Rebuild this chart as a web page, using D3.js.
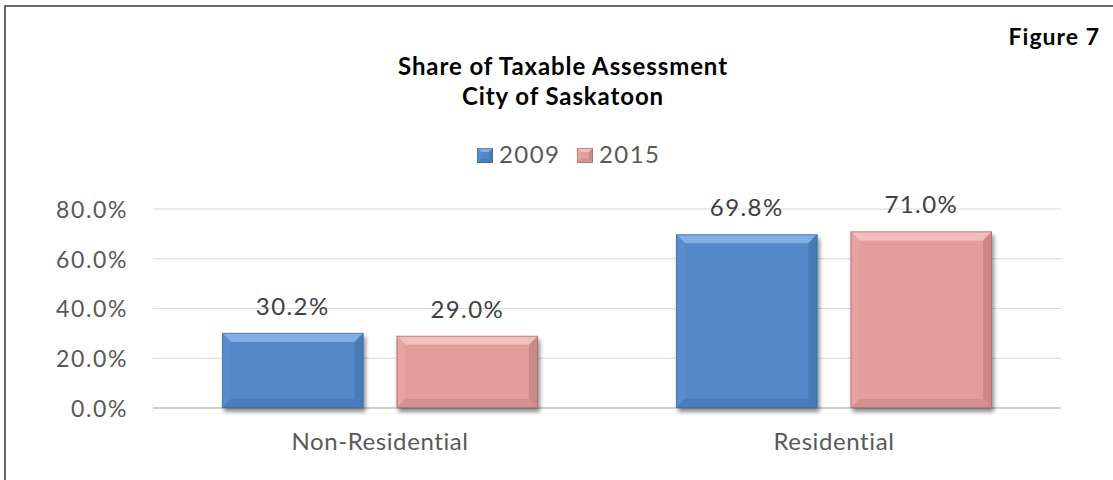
<!DOCTYPE html>
<html>
<head>
<meta charset="utf-8">
<script src="https://cdn.jsdelivr.net/npm/d3@7"></script>
<style>
  html, body { margin: 0; padding: 0; background: #fff; }
  svg { display: block; }
  text { font-family: Lato, "Open Sans", sans-serif; }
</style>
</head>
<body>
<svg id="chart" width="1113" height="480"></svg>
<script>
// ---- data ----
const categories = ["Non-Residential", "Residential"];
const seriesNames = ["2009", "2015"];
const values2009 = [30.2, 69.8];
const values2015 = [29.0, 71.0];
const yTicks = [0, 20, 40, 60, 80];
const titleLines = ["Share of Taxable Assessment", "City of Saskatoon"];
const figureLabel = "Figure 7";

const seriesValues = [values2009, values2015];
const colors = {
  "2009": { base: "#5588C8", top: "#80AEE5", left: "#598CCC", right: "#4A7AB8", bottom: "#4A7BBA", edge: "#3B69A3" },
  "2015": { base: "#E39E9C", top: "#F3BFBD", left: "#E5A3A1", right: "#CC8987", bottom: "#D39290", edge: "#A25F5D" }
};

const svg = d3.select("#chart");

// frame
svg.append("rect")
  .attr("x", 5).attr("y", 6).attr("width", 1130).attr("height", 500)
  .attr("fill", "none").attr("stroke", "#454545").attr("stroke-width", 1.6);

// defs: shadow
const defs = svg.append("defs");
const f = defs.append("filter").attr("id", "shadow")
  .attr("x", "-20%").attr("y", "-20%").attr("width", "140%").attr("height", "140%");
f.append("feGaussianBlur").attr("in", "SourceAlpha").attr("stdDeviation", 2.2).attr("result", "b");
f.append("feOffset").attr("in", "b").attr("dx", 2).attr("dy", 4).attr("result", "o");
f.append("feComponentTransfer").attr("in", "o").attr("result", "s")
  .append("feFuncA").attr("type", "linear").attr("slope", 0.45);
const m = f.append("feMerge");
m.append("feMergeNode").attr("in", "s");
m.append("feMergeNode").attr("in", "SourceGraphic");

// scales
const x0 = d3.scaleBand().domain(categories).range([153, 1061]).padding(0);
const x1 = d3.scaleBand().domain(seriesNames).range([69, x0.bandwidth() - 69]).paddingInner(0.19);
const y = d3.scaleLinear().domain([0, 80]).range([408, 209]);

// gridlines
svg.append("g").selectAll("line").data(yTicks.filter(d => d !== 0)).join("line")
  .attr("x1", x0.range()[0]).attr("x2", x0.range()[1])
  .attr("y1", d => y(d)).attr("y2", d => y(d))
  .attr("stroke", "#D9D9D9").attr("stroke-width", 1.2);

// y-axis labels
const yAxis = d3.axisLeft(y).tickValues(yTicks).tickFormat(d => d.toFixed(1) + "%").tickSize(0).tickPadding(0);
const yg = svg.append("g").attr("transform", "translate(128,0)").call(yAxis);
yg.select(".domain").remove();
yg.selectAll("text")
  .attr("font-family", "Lato, sans-serif").attr("font-size", 23)
  .attr("letter-spacing", "1.6px")
  .attr("fill", "#595959").attr("dy", "0.36em");

// bars
function bevelBar(g, x, yTop, w, h, c, b) {
  b = Math.min(b, h / 2, w / 2);
  const x2 = x + w, y2 = yTop + h;
  g.append("rect").attr("x", x).attr("y", yTop).attr("width", w).attr("height", h)
    .attr("fill", c.base);
  const poly = (pts, fill) => g.append("polygon").attr("points", pts.map(p => p.join(",")).join(" ")).attr("fill", fill);
  poly([[x, yTop], [x2, yTop], [x2 - b, yTop + b], [x + b, yTop + b]], c.top);
  poly([[x, yTop], [x + b, yTop + b], [x + b, y2 - b], [x, y2]], c.left);
  poly([[x2, yTop], [x2, y2], [x2 - b, y2 - b], [x2 - b, yTop + b]], c.right);
  poly([[x, y2], [x + b, y2 - b], [x2 - b, y2 - b], [x2, y2]], c.bottom);
  g.append("rect").attr("x", x + 0.5).attr("y", yTop + 0.5).attr("width", w - 1).attr("height", h - 1)
    .attr("fill", "none").attr("stroke", c.edge).attr("stroke-width", 1).attr("stroke-opacity", 0.55);
}

// baseline axis
svg.append("line")
  .attr("x1", x0.range()[0]).attr("x2", x0.range()[1])
  .attr("y1", y(0)).attr("y2", y(0))
  .attr("stroke", "#CFCFCF").attr("stroke-width", 2);

const barsG = svg.append("g");
categories.forEach((cat, i) => {
  seriesNames.forEach((s, j) => {
    const v = seriesValues[j][i];
    const bx = x0(cat) + x1(s);
    const by = y(v);
    const bh = y(0) - y(v);
    const g = barsG.append("g").attr("filter", "url(#shadow)");
    bevelBar(g, bx, by, x1.bandwidth(), bh, colors[s], 9);
    svg.append("text")
      .attr("x", bx + x1.bandwidth() / 2).attr("y", by - 18)
      .attr("text-anchor", "middle")
      .attr("font-size", 24).attr("letter-spacing", "1.4px")
      .attr("fill", "#404040")
      .text(v.toFixed(1) + "%");
  });
});

// category labels
svg.append("g").selectAll("text").data(categories).join("text")
  .attr("x", d => x0(d) + x0.bandwidth() / 2).attr("y", 450)
  .attr("text-anchor", "middle").attr("font-size", 24).attr("letter-spacing", "0.6px")
  .attr("fill", "#595959")
  .text(d => d);

// title
svg.append("g").selectAll("text").data(titleLines).join("text")
  .attr("x", 563).attr("y", (d, i) => 75 + i * 30)
  .attr("text-anchor", "middle").attr("font-size", 24).attr("font-weight", "bold")
  .attr("letter-spacing", "0.9px")
  .attr("fill", "#000")
  .text(d => d);

svg.append("text").attr("x", 1100).attr("y", 45).attr("text-anchor", "end")
  .attr("font-size", 23).attr("font-weight", "bold").attr("letter-spacing", "1px")
  .attr("fill", "#000").text(figureLabel);

// legend
const legendX = [477, 577];
const lg = svg.append("g");
seriesNames.forEach((s, j) => {
  const g = lg.append("g");
  bevelBar(g, legendX[j], 148, 16, 15, colors[s], 4);
  lg.append("text").attr("x", legendX[j] + 22).attr("y", 163)
    .attr("font-size", 24).attr("letter-spacing", "1.4px").attr("fill", "#595959").text(s);
});
</script>
</body>
</html>
